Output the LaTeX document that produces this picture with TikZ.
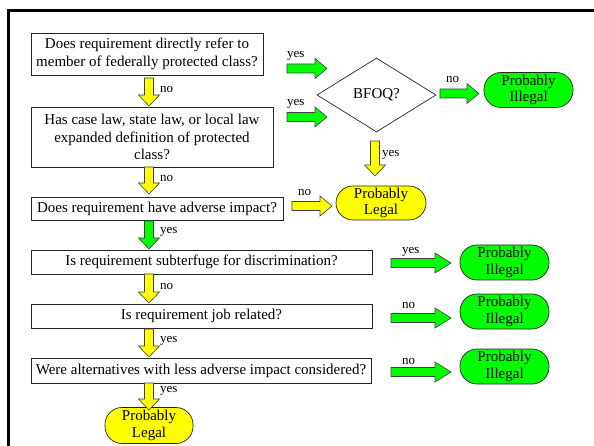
\documentclass[tikz,border=0pt]{standalone}
\usepackage{fontspec}
\setmainfont{Liberation Serif}
\usetikzlibrary{shapes.geometric}
\definecolor{lime}{RGB}{0,255,0}
\definecolor{yel}{RGB}{255,255,0}
\newcommand\harr[5]{\draw[barrow, fill=#4] (#1,#3-4.5) -- (#2-#5,#3-4.5) -- (#2-#5,#3-10) -- (#2,#3) -- (#2-#5,#3+10) -- (#2-#5,#3+4.5) -- (#1,#3+4.5) -- cycle;}
\newcommand\varr[4]{\draw[barrow, fill=#4] (#1-4.5,#2) -- (#1-4.5,#3-11) -- (#1-10.5,#3-11) -- (#1,#3) -- (#1+10.5,#3-11) -- (#1+4.5,#3-11) -- (#1+4.5,#2) -- cycle;}
\begin{document}
\begin{tikzpicture}[x=1pt,y=-1pt,
  qbox/.style={draw=black!85, fill=white, line width=0.7pt, align=center, inner sep=0pt,
    font=\fontsize{15}{17.5}\selectfont},
  res/.style={draw=black!85, line width=0.7pt, rounded corners=17pt, align=center, inner sep=0pt,
    minimum width=89pt, minimum height=35pt, font=\fontsize{15}{16.5}\selectfont},
  barrow/.style={draw=black!75, line width=0.6pt},
  lbl/.style={anchor=west, inner sep=0pt, font=\fontsize{13}{13}\selectfont}]
\useasboundingbox (0,0) rectangle (594,446);
\draw[line width=3pt] (8,460) -- (8,11) -- (610,11);
% question boxes
\node[qbox, minimum width=232pt, minimum height=42pt] (b1) at (147,54) {Does requirement directly refer to\\member of federally protected class?};
\node[qbox, minimum width=242pt, minimum height=60pt] (b2) at (152,137) {Has case law, state law, or local law\\expanded definition of protected\\class?};
\node[qbox, minimum width=252pt, minimum height=23pt] (b3) at (157,208.5) {Does requirement have adverse impact?};
\node[qbox, minimum width=341pt, minimum height=24pt] (b4) at (201.5,262) {Is requirement subterfuge for discrimination?};
\node[qbox, minimum width=341pt, minimum height=24pt] (b5) at (201.5,316) {Is requirement job related?};
\node[qbox, minimum width=340pt, minimum height=25pt] (b6) at (201,370.5) {Were alternatives with less adverse impact considered?};
\node[diamond, draw=black!85, line width=0.7pt, inner sep=0pt, minimum width=119pt, minimum height=74pt,
  font=\fontsize{15}{17}\selectfont] (bfoq) at (376.5,95) {BFOQ?};
% results
\node[res, fill=lime] (i1) at (528.5,90) {Probably\\Illegal};
\node[res, fill=yel, minimum width=90pt, minimum height=34pt] (l1) at (381,203) {Probably\\Legal};
\node[res, fill=lime] (i2) at (504.5,262.5) {Probably\\Illegal};
\node[res, fill=lime] (i3) at (504.5,311.5) {Probably\\Illegal};
\node[res, fill=lime] (i4) at (504.5,366.5) {Probably\\Illegal};
\node[res, fill=yel, minimum width=88pt, minimum height=36pt] (l2) at (149,425.5) {Probably\\Legal};
% vertical arrows
\varr{149}{78}{106}{yel}
\varr{149}{167}{194}{yel}
\varr{149}{221}{249}{lime}
\varr{149}{274}{303}{yel}
\varr{149}{329}{357}{yel}
\varr{149}{383}{410}{yel}
\varr{375}{141}{176}{yel}
% horizontal arrows
\harr{287}{327}{68.5}{lime}{12}
\harr{287}{327}{117}{lime}{12}
\harr{440}{479}{93.5}{lime}{12}
\harr{292}{332}{206}{yel}{12}
\harr{391}{451}{263}{lime}{16}
\harr{391}{451}{318}{lime}{16}
\harr{391}{451}{372}{lime}{16}
% labels
\node[lbl] (n1) at (160,90) {no};
\node[lbl] (n2) at (160,179) {no};
\node[lbl] (n3) at (160,232) {yes};
\node[lbl] (n4) at (160,287) {no};
\node[lbl] (n5) at (160,341) {yes};
\node[lbl] (n6) at (160,391) {yes};
\node[lbl] (n7) at (382,155) {yes};
\node[lbl] (n8) at (287,56) {yes};
\node[lbl] (n9) at (287,104) {yes};
\node[lbl] (n10) at (446,80) {no};
\node[lbl] (n11) at (298,193) {no};
\node[lbl] (n12) at (402,252) {yes};
\node[lbl] (n13) at (402,306) {no};
\node[lbl] (n14) at (402,361) {no};
\end{tikzpicture}
\end{document}
